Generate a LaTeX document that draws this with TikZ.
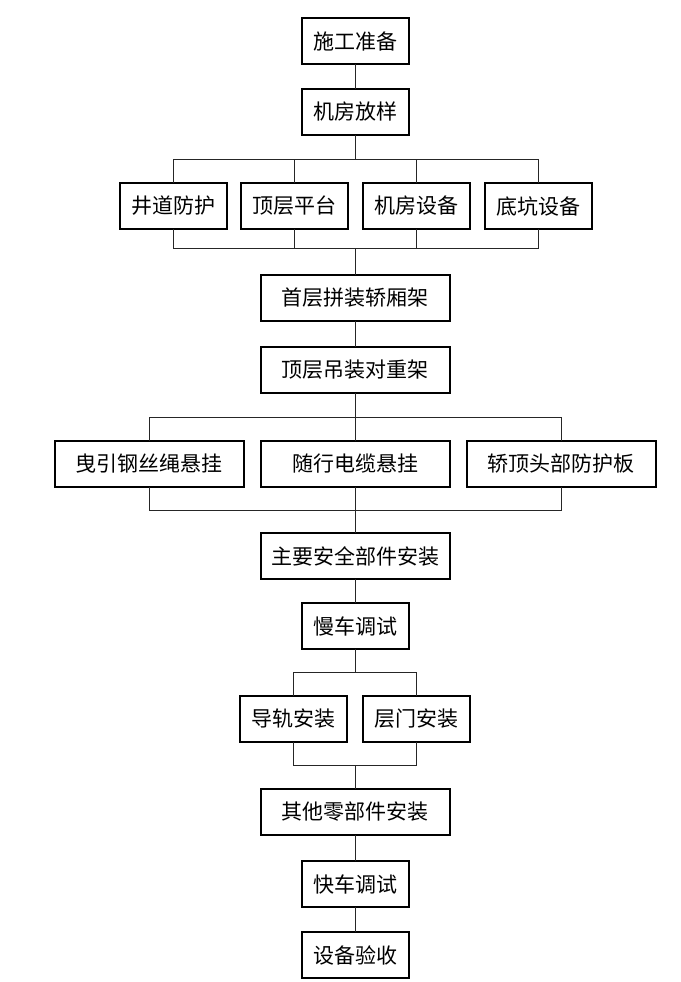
\documentclass[tikz,border=0pt]{standalone}
\usepackage{fontspec}
\newfontfamily\cjk{Noto Sans CJK SC}
\usetikzlibrary{positioning,calc}

\begin{document}
\begin{tikzpicture}[
  x=1pt,y=1pt,
  every node/.style={outer sep=0pt},
  box/.style={draw,line width=2pt,minimum width=107pt,minimum height=46pt,
    inner sep=0pt,font=\cjk\fontsize{21}{25}\selectfont},
  wbox/.style={box,minimum width=189pt},
  link/.style={line width=1pt,black!85},
  node distance=25pt
]
  \useasboundingbox (0,0) rectangle (680,-982);

  % main column, top part
  \node[box] (sgzb) at (355,-41) {施工准备};
  \node[box,below=of sgzb] (jffy) {机房放样};
  \node[box,below left=48pt and 7.5pt of jffy.south] (dcpt) {顶层平台};
  \node[box,left=14pt of dcpt] (jdfh) {井道防护};
  \node[box,right=15pt of dcpt] (jfsb) {机房设备};
  \node[box,right=15pt of jfsb] (dksb) {底坑设备};
  \coordinate (top1) at (jffy.south|-dcpt.north);
  \coordinate (end1) at (jffy.south|-dcpt.south);
  \node[wbox,below=46pt of end1] (scjx) {首层拼装轿厢架};
  \node[wbox,below=26pt of scjx] (dcdz) {顶层吊装对重架};
  \node[wbox,below=48pt of dcdz] (sxdl) {随行电缆悬挂};
  \node[wbox,left=17pt of sxdl] (yygs) {曳引钢丝绳悬挂};
  \node[wbox,right=17pt of sxdl] (jdfb) {轿顶头部防护板};
  \node[wbox,below=46pt of sxdl] (aqbj) {主要安全部件安装};
  \node[box,below=24pt of aqbj] (mcts) {慢车调试};
  \node[box,below left=47pt and 8pt of mcts.south] (dgaz) {导轨安装};
  \node[box,right=16pt of dgaz] (cmaz) {层门安装};
  \coordinate (top3) at (mcts.south|-dgaz.north);
  \coordinate (end3) at (mcts.south|-dgaz.south);
  \node[wbox,below=47pt of end3] (qtbj) {其他零部件安装};
  \node[box,below=26pt of qtbj] (kcts) {快车调试};
  \node[box,below=of kcts] (sbys) {设备验收};

  % straight links
  \draw[link] (sgzb) -- (jffy);
  \draw[link] (scjx) -- (dcdz);
  \draw[link] (aqbj) -- (mcts);
  \draw[link] (qtbj) -- (kcts);
  \draw[link] (kcts) -- (sbys);

  % branches
  \path (jffy.south) -- (top1) coordinate[pos=0.5] (fork1);
  \path (end1) -- (scjx.north) coordinate[pos=0.43] (join1);
  \draw[link] (jffy) -- (fork1);
  \draw[link] (join1) -- (scjx);
  \foreach \n in {jdfh,dcpt,jfsb,dksb}{
    \draw[link] (fork1) -| (\n.north);
    \draw[link] (join1) -| (\n.south);
  }

  \path (dcdz.south) -- (sxdl.north) coordinate[pos=0.5] (fork2);
  \path (sxdl.south) -- (aqbj.north) coordinate[pos=0.5] (join2);
  \draw[link] (dcdz) -- (sxdl);
  \draw[link] (sxdl) -- (aqbj);
  \foreach \n in {yygs,jdfb}{
    \draw[link] (fork2) -| (\n.north);
    \draw[link] (join2) -| (\n.south);
  }

  \path (mcts.south) -- (top3) coordinate[pos=0.5] (fork3);
  \path (end3) -- (qtbj.north) coordinate[pos=0.5] (join3);
  \draw[link] (mcts) -- (fork3);
  \draw[link] (join3) -- (qtbj);
  \foreach \n in {dgaz,cmaz}{
    \draw[link] (fork3) -| (\n.north);
    \draw[link] (join3) -| (\n.south);
  }
\end{tikzpicture}
\end{document}
